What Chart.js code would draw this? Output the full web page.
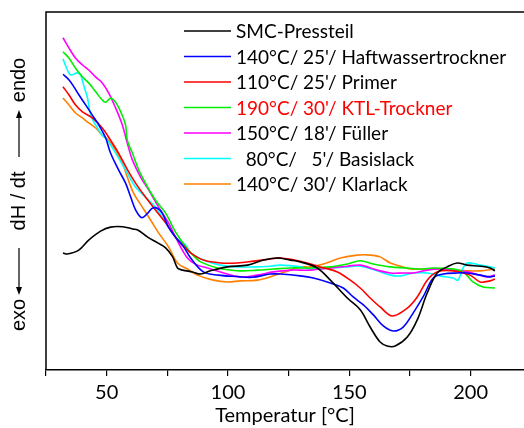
<!DOCTYPE html>
<html>
<head>
<meta charset="utf-8">
<script src="https://cdn.jsdelivr.net/npm/chart.js@4/dist/chart.umd.min.js"></script>
<style>
  html, body { margin: 0; padding: 0; background: #fff; }
  #wrap { width: 524px; height: 428px; }
</style>
</head>
<body>
<div id="wrap"><canvas id="chart" width="524" height="428"></canvas></div>
<script>
// legend labels
var labels = ['SMC-Pressteil', "140°C/ 25'/ Haftwassertrockner", "110°C/ 25'/ Primer",
    "190°C/ 30'/ KTL-Trockner", "150°C/ 18'/ Füller", "  80°C/   5'/ Basislack", "140°C/ 30'/ Klarlack"];
var colors = ['#000000', '#0000ff', '#ff0000', '#00ee00', '#ff00ff', '#00ffff', '#ff8000'];
var xTicks = [50, 100, 150, 200];

// temperature [°C] / signal (a.u.) per sample
var smcT = [32, 33.8, 38.5, 42.6, 47.5, 51.6, 56.6, 60.7, 62.8, 66.9, 71, 74.3, 77.2, 79.2, 81.3, 85.4, 88.7, 92.8, 99.8, 108, 114.6, 120.4, 125.7, 129.8, 136.8, 142.2, 149.2, 154.5, 158.6, 162.7, 165.6, 168.9, 173.9, 178, 182.1, 186.2, 190.3, 194.4, 198.6, 203.9, 208, 210];
var smcY = [32.7, 32.4, 33.5, 36.3, 38.8, 39.9, 40.0, 39.4, 39.1, 37.1, 35.5, 34.1, 31.6, 28.5, 27.9, 27.4, 26.8, 27.7, 28.8, 29.3, 30.7, 31.3, 30.7, 30.2, 28.5, 25.1, 20.1, 16.8, 12.0, 7.8, 6.7, 6.7, 9.2, 14.0, 21.5, 27.1, 28.8, 29.9, 29.3, 29.0, 28.5, 27.7];

var haftT = [32, 34.5, 36.5, 38.6, 41.4, 44.1, 46.8, 49.6, 51.6, 54.9, 57.8, 59.9, 61.9, 64, 65.2, 67.3, 68.8, 70.9, 72.9, 75.5, 78.4, 81.7, 84.6, 89.9, 96, 103.8, 110, 117.5, 121.6, 129.8, 135.2, 142.2, 147.5, 151.6, 155.8, 159.9, 164, 168.1, 172.2, 176.3, 180.4, 184.6, 188.7, 194.4, 198.6, 203.9, 208, 210];
var haftY = [82.6, 81.0, 79.1, 76.8, 74.0, 71.2, 68.4, 64.8, 60.6, 55.9, 52.2, 48.3, 44.7, 42.7, 42.7, 44.1, 45.2, 45.2, 43.8, 39.9, 37.1, 34.4, 31.3, 27.4, 26.5, 26.1, 25.9, 26.8, 26.8, 26.3, 25.7, 24.3, 22.9, 20.4, 18.2, 15.4, 12.3, 10.9, 12.0, 15.9, 20.4, 25.7, 26.8, 27.1, 27.1, 26.5, 26.0, 26.3];

var primerT = [32, 34.5, 37.2, 40, 44.1, 48.2, 51.6, 54.9, 58.6, 61.9, 66, 70.1, 74.3, 78.4, 82.5, 84.6, 89.9, 96.9, 103.9, 110.5, 117.5, 121.6, 129.8, 138.1, 145.1, 150.4, 154.5, 158.6, 162.7, 167.7, 173.9, 178, 182.1, 186.2, 192.8, 199.8, 203.9, 208, 210];
var primerY = [79.1, 76.8, 74.0, 72.1, 70.4, 67.6, 64.2, 60.6, 55.9, 52.2, 48.3, 44.7, 41.1, 37.1, 34.1, 32.7, 30.7, 29.9, 29.9, 30.4, 31.0, 31.3, 30.4, 28.8, 27.4, 25.1, 22.9, 20.1, 17.6, 15.1, 17.3, 20.4, 25.1, 27.4, 27.7, 26.5, 24.6, 24.9, 25.4];

var ktlT = [32, 34.5, 37.2, 40, 42.6, 45.5, 48.2, 49.6, 51.6, 53.7, 55.8, 57.8, 58.5, 60.6, 63.2, 66, 70.1, 74.3, 78.4, 82.5, 86, 88.7, 95.7, 105.1, 112.1, 118.7, 125.7, 133.9, 142.2, 149.2, 154.5, 159.9, 166.9, 173.9, 179.2, 184.6, 191.6, 196.9, 201, 205.1, 210];
var ktlY = [88.9, 87.1, 84.3, 81.9, 80.2, 77.7, 75.4, 74.8, 75.9, 74.8, 72.1, 68.4, 64.2, 60.6, 55.9, 52.2, 47.5, 43.8, 38.5, 34.5, 31.8, 30.2, 28.5, 27.7, 27.9, 28.2, 28.5, 28.5, 28.8, 29.6, 30.5, 29.6, 28.8, 28.5, 28.2, 28.5, 28.3, 27.4, 24.6, 23.2, 22.9];

var fuellerT = [32, 34.5, 37.2, 40, 42.6, 45.5, 48.2, 50.8, 53.7, 56.5, 58.5, 60.6, 64, 67.3, 71.4, 75.5, 78.4, 83.3, 87.4, 91.6, 96.9, 105.1, 112.1, 118.7, 125.7, 133.9, 142.2, 149.2, 154.5, 161.5, 166.9, 172.2, 176.3, 182.1, 187.4, 192.8, 198.6, 203.9, 206.8, 210];
var fuellerY = [92.8, 89.9, 87.1, 85.2, 83.8, 81.8, 80.2, 77.4, 73.2, 68.4, 63.4, 58.7, 53.9, 50.3, 45.5, 41.1, 37.1, 31.3, 29.3, 28.5, 27.4, 26.0, 26.5, 27.4, 27.9, 27.9, 28.5, 29.0, 29.3, 27.9, 27.1, 27.1, 27.1, 27.9, 28.2, 27.9, 27.4, 26.5, 26.0, 26.5];

var basisT = [32, 33.8, 35.2, 37.9, 39.3, 40.5, 42.1, 43.4, 45.5, 48.2, 50.3, 53.7, 57.8, 61.9, 66, 70.1, 74.3, 78.4, 82.5, 84.6, 89.9, 96.9, 103.9, 110.5, 117.5, 121.6, 129.8, 133.9, 142.2, 149.2, 154.5, 161.5, 166.9, 171, 176.3, 182.1, 187.4, 192.8, 194.8, 196.9, 198.6, 203.9, 208, 210];
var basisY = [86.9, 83.8, 82.4, 83.0, 82.4, 79.6, 76.0, 71.2, 68.4, 65.6, 64.2, 60.6, 55.9, 51.1, 48.3, 45.5, 41.1, 37.1, 34.9, 32.7, 30.7, 29.3, 28.8, 28.8, 29.0, 29.3, 28.8, 28.2, 28.5, 28.8, 29.0, 27.7, 26.5, 26.3, 27.1, 27.1, 26.3, 25.7, 25.1, 28.5, 29.9, 29.3, 28.8, 28.5];

var klarT = [32, 34.5, 37.2, 40, 42.6, 45.5, 48.2, 50.8, 53.7, 56.5, 58.5, 61.1, 64.7, 68.1, 71.4, 75.5, 79.2, 83.3, 87.4, 94, 99.8, 105.1, 112.1, 118.7, 125.7, 129.8, 133.9, 139.3, 146.3, 153.3, 158.6, 162.7, 166.9, 172.2, 175.1, 179.2, 187.4, 192.8, 198.6, 203.9, 210];
var klarY = [76.0, 74.0, 71.8, 70.4, 69.0, 67.6, 65.6, 64.2, 61.4, 57.8, 53.9, 49.4, 45.5, 41.9, 38.3, 34.4, 29.9, 28.2, 26.5, 25.1, 24.6, 24.9, 25.1, 26.3, 27.9, 28.8, 28.8, 29.6, 31.3, 32.1, 32.1, 31.6, 29.9, 28.8, 28.2, 28.2, 28.2, 27.9, 27.7, 27.7, 28.2];

var seriesT = [smcT, haftT, primerT, ktlT, fuellerT, basisT, klarT];
var seriesY = [smcY, haftY, primerY, ktlY, fuellerY, basisY, klarY];

function toPoints(ts, ys) {
    var pts = [];
    for (var i = 0; i < ts.length; i++) pts.push({x: ts[i], y: ys[i]});
    return pts;
}

var datasets = [];
for (var i = 0; i < labels.length; i++) {
    datasets.push({
        label: labels[i],
        data: toPoints(seriesT[i], seriesY[i]),
        borderColor: colors[i],
        borderWidth: 1.6,
        pointRadius: 0,
        fill: false,
        tension: 0.35
    });
}

// frame, legend and y axis caption
var decor = {
    id: 'decor',
    afterDatasetsDraw: function(chart) {
        var ctx = chart.ctx;
        var a = chart.chartArea;
        ctx.save();
        ctx.strokeStyle = '#000';
        ctx.lineWidth = 1.5;
        ctx.beginPath();
        ctx.moveTo(a.left, a.bottom);
        ctx.lineTo(a.left, a.top);
        ctx.lineTo(chart.width, a.top);
        ctx.stroke();

        // legend
        var ds = chart.data.datasets;
        ctx.font = '19px Lato';
        ctx.textBaseline = 'middle';
        for (var i = 0; i < ds.length; i++) {
            var y = 31 + i * 25.5;
            ctx.strokeStyle = ds[i].borderColor;
            ctx.lineWidth = 1.5;
            ctx.beginPath();
            ctx.moveTo(184, y);
            ctx.lineTo(231, y);
            ctx.stroke();
            ctx.fillStyle = (i === 3) ? '#ff0000' : '#000';
            ctx.fillText(ds[i].label, 236, y + 1);
        }

        // y caption: exo <-- dH / dt --> endo
        var cx = 19, c = 201;
        ctx.translate(cx, c);
        ctx.rotate(-Math.PI / 2);
        ctx.fillStyle = '#000';
        ctx.font = '20px "Liberation Sans"';
        ctx.textAlign = 'center';
        ctx.textBaseline = 'middle';
        ctx.fillText('dH / dt', 0, 0);
        ctx.fillText('endo', 121, 0);
        ctx.fillText('exo', -114, 0);
        ctx.strokeStyle = '#000';
        ctx.lineWidth = 1.2;
        ctx.beginPath();
        ctx.moveTo(44, 0); ctx.lineTo(86, 0);
        ctx.moveTo(-47, 0); ctx.lineTo(-89, 0);
        ctx.stroke();
        ctx.beginPath();
        ctx.moveTo(91, 0); ctx.lineTo(83, -3); ctx.lineTo(83, 3); ctx.closePath();
        ctx.moveTo(-94, 0); ctx.lineTo(-86, -3); ctx.lineTo(-86, 3); ctx.closePath();
        ctx.fill();
        ctx.restore();
    }
};

var ctx = document.getElementById('chart');
var chart = new Chart(ctx, {
    type: 'line',
    data: { datasets: datasets },
    options: {
        responsive: false,
        animation: false,
        layout: { padding: { left: 46, top: 12, right: 0, bottom: 0 } },
        plugins: { legend: { display: false }, tooltip: { enabled: false } },
        scales: {
            x: {
                type: 'linear',
                min: 25,
                max: 222,
                border: { color: '#000', width: 1.5 },
                grid: { drawOnChartArea: false, tickLength: 6, color: '#000', lineWidth: 1.2 },
                ticks: {
                    stepSize: 25,
                    includeBounds: false,
                    autoSkip: false,
                    maxRotation: 0,
                    padding: 5,
                    color: '#000',
                    font: { family: 'Lato', size: 20 },
                    callback: function(v) { return xTicks.indexOf(v) >= 0 ? String(v) : ''; }
                },
                title: {
                    display: true,
                    text: 'Temperatur [°C]',
                    color: '#000',
                    font: { family: 'Lato', size: 20 },
                    padding: { top: 0, bottom: 0 }
                },
                afterFit: function(scale) { scale.height = 58; }
            },
            y: { type: 'linear', min: 0, max: 100, display: false }
        }
    },
    plugins: [decor]
});
</script>
</body>
</html>
